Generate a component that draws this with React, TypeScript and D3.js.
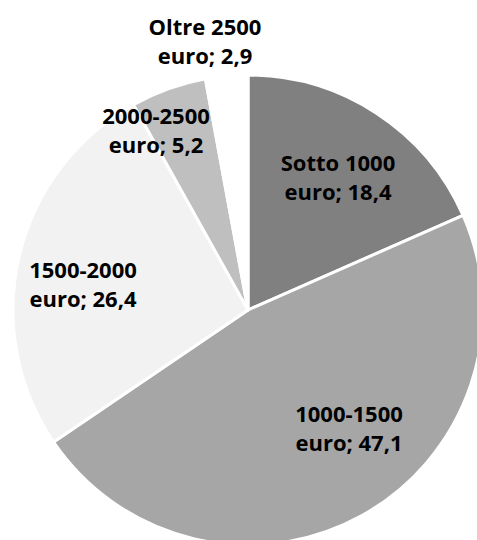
import React from "react";
import * as d3 from "d3";

const categories = ["Sotto 1000 euro", "1000-1500 euro", "1500-2000 euro", "2000-2500 euro", "Oltre 2500 euro"];
const labelLine1 = ["Sotto 1000", "1000-1500", "1500-2000", "2000-2500", "Oltre 2500"];
const values = [18.4, 47.1, 26.4, 5.2, 2.9];
const colors = ["#808080", "#a6a6a6", "#f2f2f2", "#bfbfbf", "#ffffff"];

const W = 477;
const H = 540;
const cx = 248;
const cy = 310;
const R = 235;
// label anchor: [center x, first-line baseline] (layout, not data)
const labelPos: [number, number][] = [
  [338, 171],
  [349, 422],
  [83, 278],
  [156, 124],
  [205, 35],
];
const lineGap = 29;

export default function App() {
  const pie = d3.pie<number>().sort(null).value((d) => d);
  const arcs = pie(values);
  const arc = d3.arc<d3.PieArcDatum<number>>().innerRadius(0).outerRadius(R);
  const fmt = (v: number) => v.toFixed(1).replace(".", ",");
  return (
    <svg width={W} height={H} style={{ position: "absolute", left: 0, top: 0, background: "#fff" }}>
      <g transform={`translate(${cx},${cy})`}>
        {arcs.map((a, i) => (
          <path key={categories[i]} d={arc(a) || ""} fill={colors[i]} stroke="#ffffff" strokeWidth={3} strokeLinejoin="round" />
        ))}
      </g>
      {arcs.map((a, i) => (
        <text
          key={"t" + i}
          textAnchor="middle"
          fontFamily="'Open Sans', Lato, sans-serif"
          fontWeight="bold"
          fontSize={22}
          fill="#000"
        >
          <tspan x={labelPos[i][0]} y={labelPos[i][1]}>{labelLine1[i]}</tspan>
          <tspan x={labelPos[i][0]} y={labelPos[i][1] + lineGap}>{`euro; ${fmt(values[i])}`}</tspan>
        </text>
      ))}
    </svg>
  );
}
